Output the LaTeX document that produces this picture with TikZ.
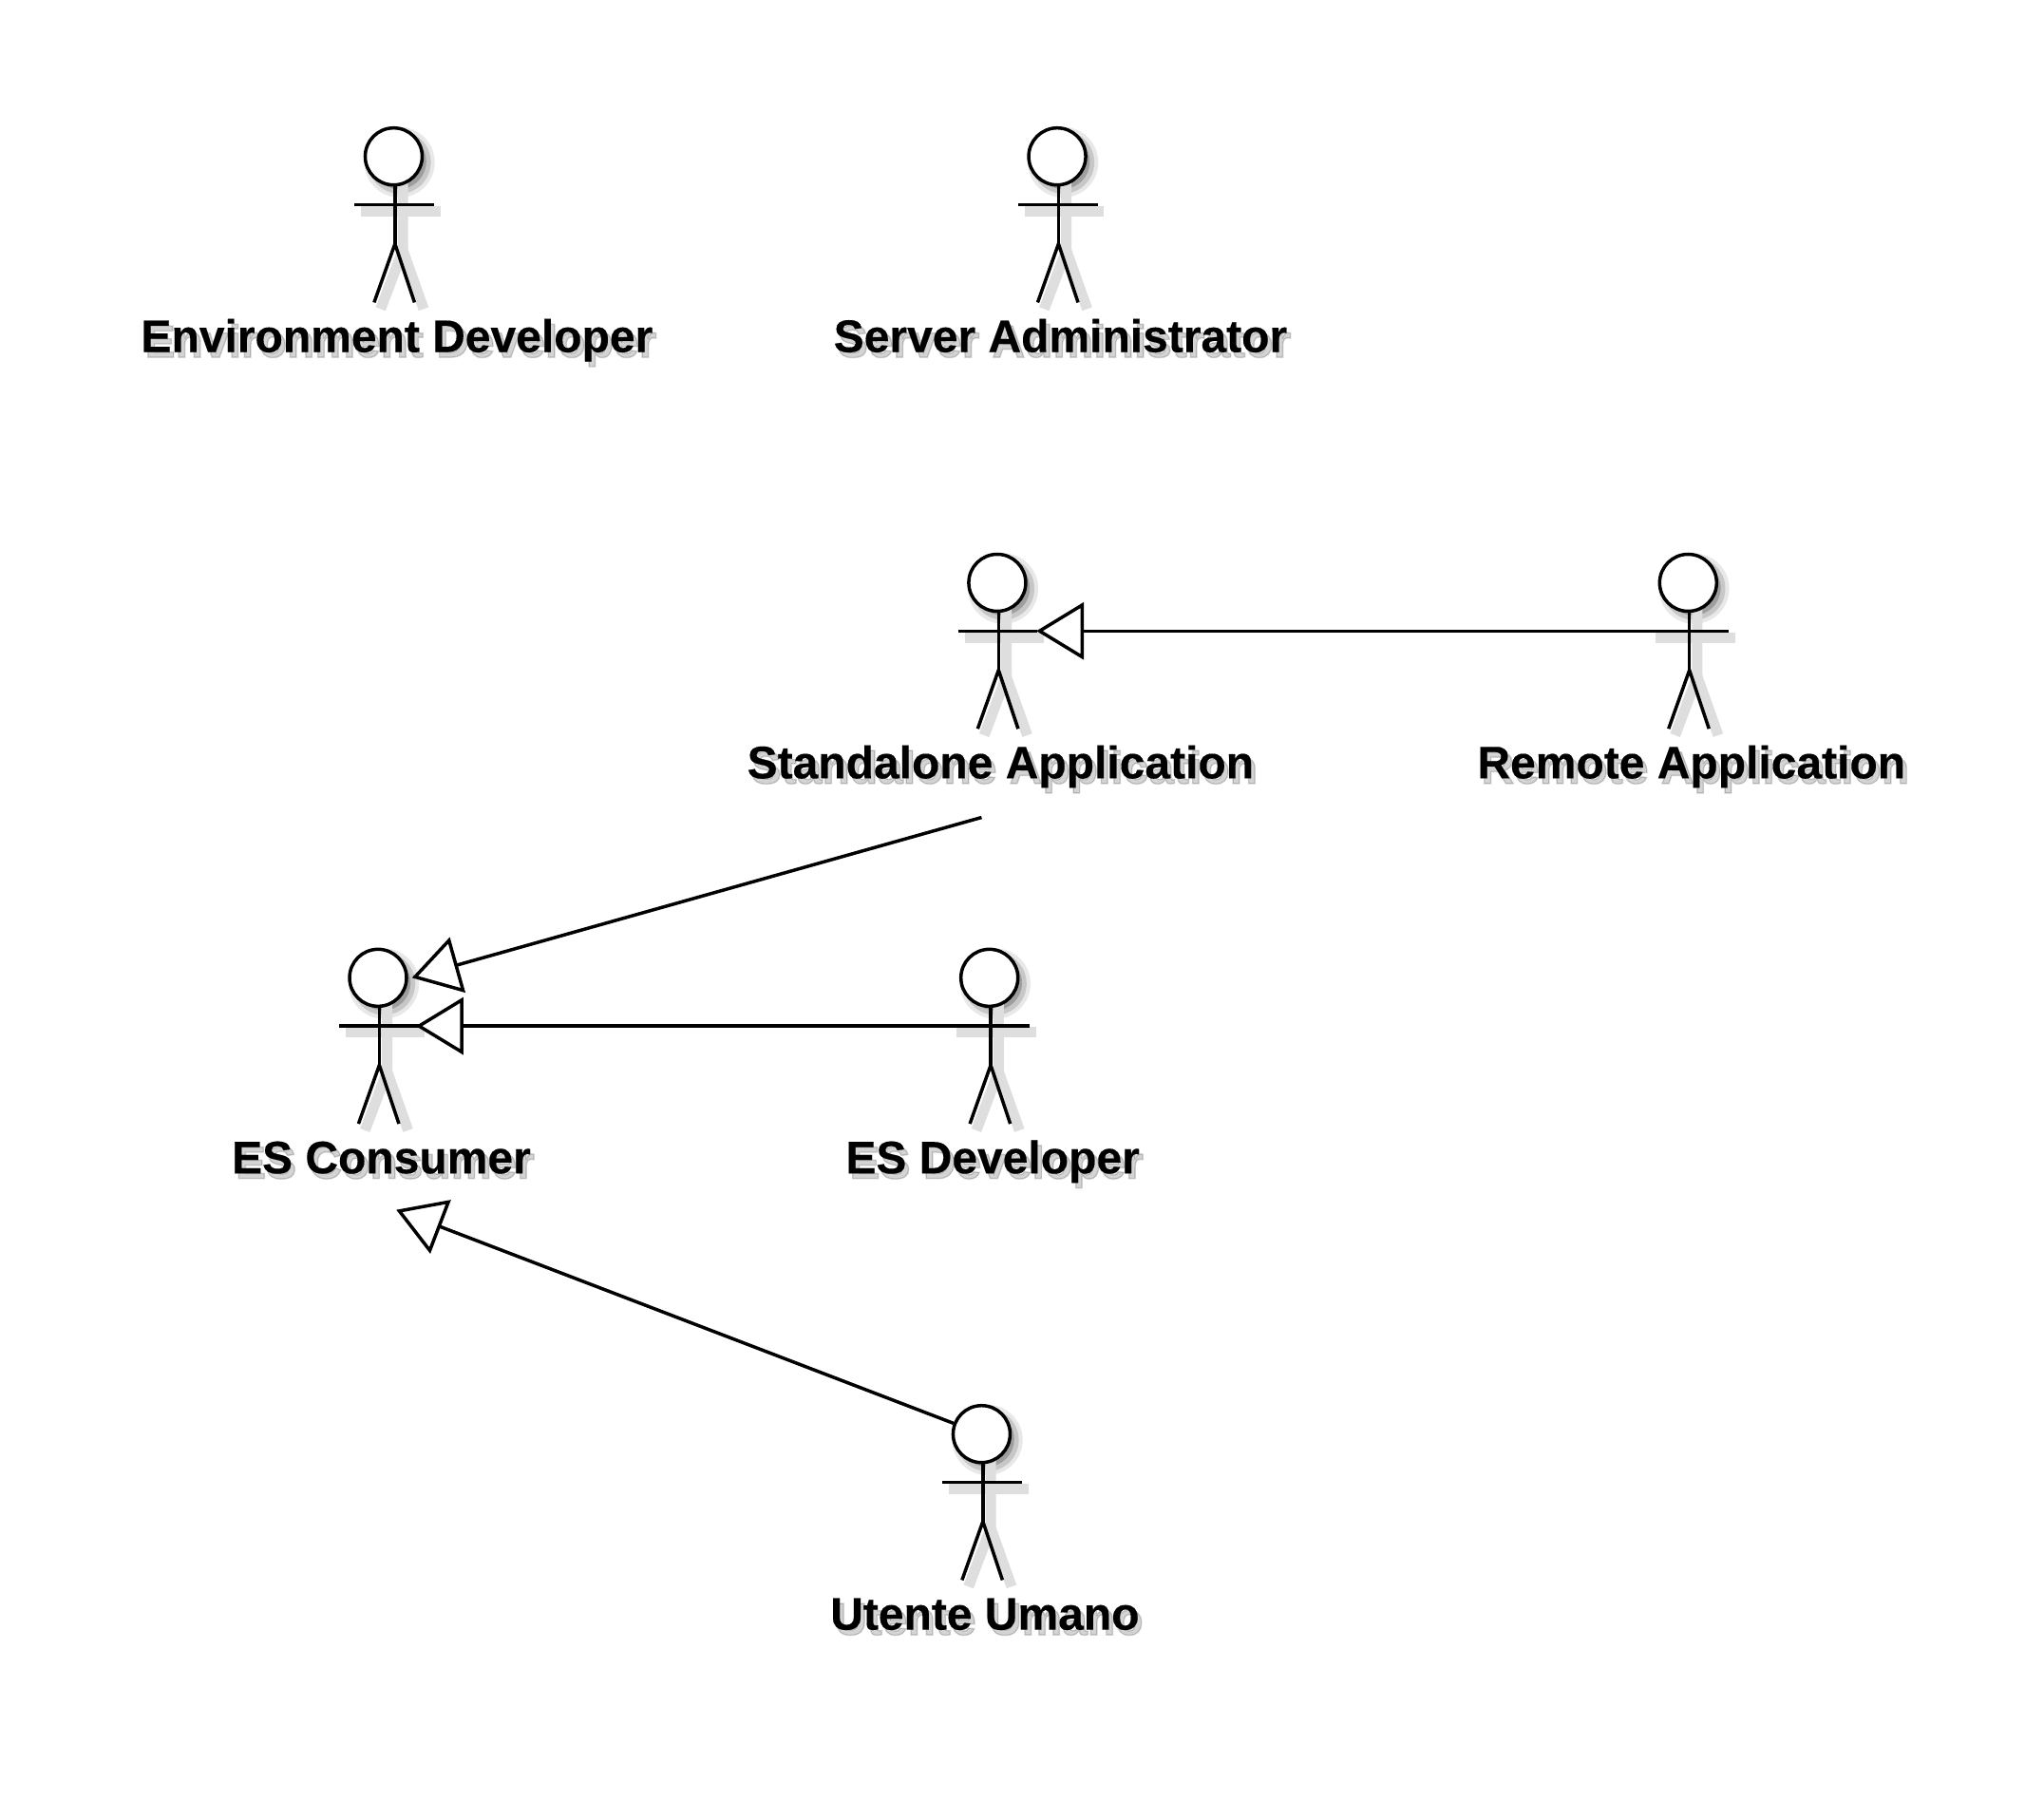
\documentclass[tikz,border=0pt]{standalone}
\usepackage{fontspec}
\setmainfont{Liberation Sans}[BoldFeatures={FakeBold=0.3}]
\newfontfamily\shadowA{Liberation Sans}[BoldFeatures={FakeBold=3}]
\usetikzlibrary{arrows.meta}
\tikzset{
  x=1.3724pt,y=-1.3724pt,
  stick/.style={line width=3.5pt,black,line cap=butt},
  shade line/.style={line width=11pt,black!13},
  head/.style={circle,draw,fill=white,line width=3.5pt,inner sep=0pt,minimum size=60pt},
  actorname/.style={anchor=base,inner sep=0pt,font=\fontsize{48}{48}\selectfont\bfseries,text=black},
  shadowname/.style={anchor=base,inner sep=0pt,font=\fontsize{48}{48}\selectfont\shadowA\bfseries,text=black,text opacity=0.17},
  gen/.style={line width=3.5pt,black,-{Triangle[open,fill=white,length=50pt,width=60pt]}}
}
% \actorfig{name}{x}{y}{label}
\newcommand{\actorfig}[4]{%
  \begin{scope}[shift={(#2,#3)}]
    \fill[black!9] (4.5,4.5) circle[radius=27];
    \fill[black!22] (4.5,4.5) circle[radius=24];
    \fill[black!38] (4,4) circle[radius=21];
    \draw[shade line] (-25,42) -- (36,42);
    \draw[shade line] (7,20) -- (7,72) -- (-10,117);
    \draw[shade line] (7,72) -- (23,117);
    \node[shadowname] (#1-shade) at (5.5,154) {#4};
    \node[head] (#1) at (0,0) {};
    \draw[stick] (-30,37) coordinate (#1-armL) -- (31,37) coordinate (#1-armR);
    \draw[stick] (#1.south) ++(1,0) -- (1,67) coordinate (#1-hip);
    \draw[stick] (-15,112) -- (#1-hip) -- (16,112);
    \coordinate (#1-arm) at (1,37);
    \node[actorname] (#1-label) at (2.5,150) {#4};
  \end{scope}}
\begin{document}
\begin{tikzpicture}
\useasboundingbox (0,0) rectangle (1568,1396);
\fill[white] (0,0) rectangle (1568,1396);
\actorfig{envdev}{302}{120}{Environment Developer}
\actorfig{srvadm}{811}{120}{Server Administrator}
\actorfig{standalone}{765}{447}{Standalone Application}
\actorfig{remote}{1295}{447}{Remote Application}
\actorfig{consumer}{290}{750}{ES Consumer}
\actorfig{esdev}{759}{750}{ES Developer}
\actorfig{utente}{753}{1100}{Utente Umano}
\coordinate (tipA) at (795,484);
\coordinate (tipB) at (316,750);
\coordinate (tipC) at (319,787);
\coordinate (tipD) at (304,928);
\coordinate (startB) at (753,627);
\draw[gen] (remote-arm) -- (tipA);
\draw[gen] (startB) -- (tipB);
\draw[gen] (esdev-arm) -- (tipC);
\draw[gen] (utente) -- (tipD);
\end{tikzpicture}
\end{document}
